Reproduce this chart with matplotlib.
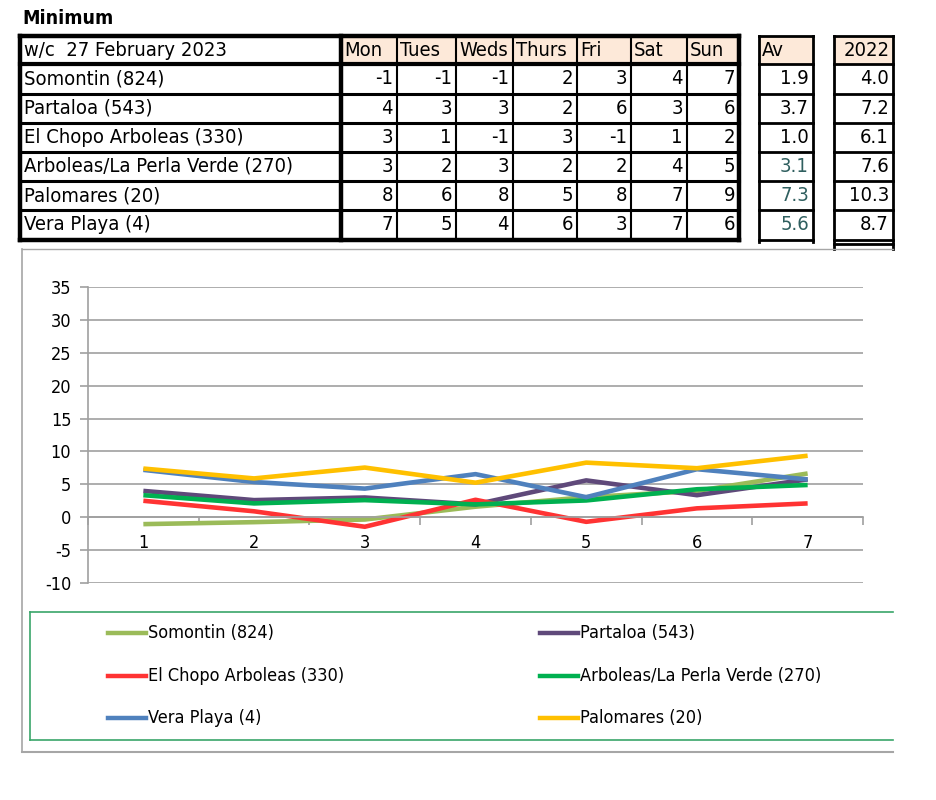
import matplotlib
matplotlib.use("Agg")
import matplotlib.pyplot as plt
from matplotlib import font_manager
from matplotlib.lines import Line2D
from matplotlib.patches import Rectangle

# table data
days = ["Mon", "Tues", "Weds", "Thurs", "Fri", "Sat", "Sun"]
stations = ["Somontin (824)", "Partaloa (543)", "El Chopo Arboleas (330)",
            "Arboleas/La Perla Verde (270)", "Palomares (20)", "Vera Playa (4)"]
somontin_t = [-1, -1, -1, 2, 3, 4, 7]
partaloa_t = [4, 3, 3, 2, 6, 3, 6]
chopo_t = [3, 1, -1, 3, -1, 1, 2]
arboleas_t = [3, 2, 3, 2, 2, 4, 5]
palomares_t = [8, 6, 8, 5, 8, 7, 9]
vera_t = [7, 5, 4, 6, 3, 7, 6]
av = [1.9, 3.7, 1.0, 3.1, 7.3, 5.6]
last_year = [4.0, 7.2, 6.1, 7.6, 10.3, 8.7]

# chart series (the plotted decimals)
x_days = [1, 2, 3, 4, 5, 6, 7]
somontin = [-1.05, -0.75, -0.35, 1.6, 3.05, 4.0, 6.65]
partaloa = [4.0, 2.6, 3.0, 1.95, 5.6, 3.35, 5.75]
chopo = [2.5, 0.9, -1.45, 2.65, -0.7, 1.35, 2.1]
arboleas = [3.35, 2.1, 2.6, 1.95, 2.55, 4.25, 4.9]
vera = [7.2, 5.35, 4.35, 6.55, 3.05, 7.3, 5.75]
palomares = [7.4, 5.9, 7.55, 5.25, 8.3, 7.45, 9.35]

series_names = ["Somontin (824)", "Partaloa (543)", "El Chopo Arboleas (330)",
                "Arboleas/La Perla Verde (270)", "Vera Playa (4)", "Palomares (20)"]
series_vals = [somontin, partaloa, chopo, arboleas, vera, palomares]
series_cols = ["#9bbb59", "#5f497a", "#ff3333", "#00b050", "#4f81bd", "#ffc000"]

W, H = 937, 800

# a narrow face looks closer to Calibri, use one if it is there
names = {f.name for f in font_manager.fontManager.ttflist}
stretch = "normal"
FONT = ["Noto Sans", "DejaVu Sans"]
if "Liberation Sans Narrow" in names:
    FONT = ["Liberation Sans Narrow", "DejaVu Sans"]
elif any(f.name == "DejaVu Sans" and f.stretch == "condensed" for f in font_manager.fontManager.ttflist):
    FONT = ["DejaVu Sans"]
    stretch = "condensed"
plt.rcParams['font.family'] = FONT
plt.rcParams['font.stretch'] = stretch
plt.rcParams['axes.unicode_minus'] = False

fig = plt.figure(figsize=(W / 100, H / 100), dpi=100)
fig.patch.set_facecolor("white")


def fx(x):
    return x / W


def fy(y):
    return 1 - y / H


def hline(x0, x1, y, lw, c="black"):
    fig.add_artist(Line2D([fx(x0), fx(x1)], [fy(y), fy(y)], lw=lw, color=c,
                          transform=fig.transFigure, solid_capstyle="projecting"))


def vline(x, y0, y1, lw, c="black"):
    fig.add_artist(Line2D([fx(x), fx(x)], [fy(y0), fy(y1)], lw=lw, color=c,
                          transform=fig.transFigure, solid_capstyle="projecting"))


def rect(x0, y0, x1, y1, fc):
    fig.add_artist(Rectangle((fx(x0), fy(y1)), fx(x1) - fx(x0), fy(y0) - fy(y1),
                             facecolor=fc, edgecolor="none", transform=fig.transFigure))


fig.text(fx(22), fy(19), "Minimum", fontsize=14, fontweight="bold", va="center", ha="left")

# table geometry
col_edges = [20, 341, 397, 456, 513, 577, 631, 687, 739]
row_edges = [36, 64, 94, 123, 152, 181, 210, 240]
av_box = (759, 813)
ly_box = (834, 893)
peach = "#fde9d9"
teal = "#2f5f5f"

for i in range(7):
    rect(col_edges[i + 1], row_edges[0], col_edges[i + 2], row_edges[1], peach)
rect(av_box[0], row_edges[0], av_box[1], row_edges[1], peach)
rect(ly_box[0], row_edges[0], ly_box[1], row_edges[1], peach)

# main table lines
for y in row_edges[1:-1]:
    hline(col_edges[0], col_edges[-1], y, 2.2)
hline(col_edges[0], col_edges[-1], row_edges[0], 3.2)
hline(col_edges[0], col_edges[-1], row_edges[-1], 3.2)
hline(col_edges[0], col_edges[-1], row_edges[1], 3.0)
for x in col_edges[2:-1]:
    vline(x, row_edges[0], row_edges[-1], 1.5)
vline(col_edges[0], row_edges[0], row_edges[-1], 3.2)
vline(col_edges[1], row_edges[0], row_edges[-1], 3.2)
vline(col_edges[-1], row_edges[0], row_edges[-1], 3.2)

# Av and 2022 boxes
for (a, b), bottom in [(av_box, 242), (ly_box, 249)]:
    vline(a, row_edges[0], bottom, 2.0)
    vline(b, row_edges[0], bottom, 2.0)
    for y in row_edges[1:]:
        hline(a, b, y, 2.0)
    hline(a, b, row_edges[0], 2.0)
hline(ly_box[0], ly_box[1], 244, 2.0)

fs = 14.5
ymid = lambda r: (row_edges[r] + row_edges[r + 1]) / 2
fig.text(fx(24), fy(ymid(0)), "w/c  27 February 2023", fontsize=fs, va="center")
for i, d in enumerate(days):
    fig.text(fx(col_edges[i + 1] + 3), fy(ymid(0)), d, fontsize=fs, va="center")
fig.text(fx(av_box[0] + 3), fy(ymid(0)), "Av", fontsize=fs, va="center")
fig.text(fx(ly_box[1] - 3), fy(ymid(0)), "2022", fontsize=fs, va="center", ha="right")

table_rows = [somontin_t, partaloa_t, chopo_t, arboleas_t, palomares_t, vera_t]
for r, (name, vals) in enumerate(zip(stations, table_rows)):
    yc = fy(ymid(r + 1))
    fig.text(fx(24), yc, name, fontsize=fs, va="center")
    for i, v in enumerate(vals):
        fig.text(fx(col_edges[i + 2] - 4), yc, str(v), fontsize=fs, va="center", ha="right")
    fig.text(fx(av_box[1] - 4), yc, f"{av[r]:.1f}", fontsize=fs, va="center", ha="right",
             color=teal if r >= 3 else "black")
    fig.text(fx(ly_box[1] - 4), yc, f"{last_year[r]:.1f}", fontsize=fs, va="center", ha="right")

# chart frame and legend frame (right edge is cut off in the original)
grey = "#a6a6a6"
hline(22, 893, 249, 1.0, grey)
hline(22, 893, 752, 1.5, grey)
vline(22, 249, 752, 1.2, grey)
lg = "#3aa56a"
hline(30, 893, 612, 1.2, lg)
hline(30, 893, 740, 1.2, lg)
vline(30, 612, 740, 1.2, lg)

# plot
ax = fig.add_axes([fx(88), fy(583), fx(863) - fx(88), fy(287) - fy(583)])
for name, vals, col in zip(series_names, series_vals, series_cols):
    ax.plot(x_days, vals, color=col, lw=3.3, label=name, solid_capstyle="butt")

ax.set_xlim(0.5, 7.5)
ax.set_ylim(-10, 35)
ax.set_yticks(range(-10, 36, 5))
ax.grid(axis="y", color="#a0a0a0", lw=1.2)
ax.set_axisbelow(True)
for s in ["top", "right"]:
    ax.spines[s].set_visible(False)
ax.spines["left"].set_color("#a0a0a0")
ax.spines["left"].set_linewidth(1.2)
ax.spines["bottom"].set_position(("data", 0))
ax.spines["bottom"].set_color("#a0a0a0")
ax.spines["bottom"].set_linewidth(1.2)
ax.set_xticks(x_days)
ax.set_xticklabels([str(d) for d in x_days])
ax.set_xticks([i + 0.5 for i in range(8)], minor=True)
ax.tick_params(axis="x", which="major", length=0, pad=12, labelsize=13)
ax.tick_params(axis="x", which="minor", length=6, color="#a0a0a0", width=1.2)
ax.tick_params(axis="y", length=6, color="#a0a0a0", width=1.2, labelsize=13, pad=6)

# legend drawn by hand, two columns
leg_pos = [(108, 633), (540, 633), (108, 676), (540, 676), (108, 718), (540, 718)]
for (lx, ly), name, col in zip(leg_pos, series_names, series_cols):
    fig.add_artist(Line2D([fx(lx), fx(lx + 38)], [fy(ly), fy(ly)], lw=3.2, color=col,
                          transform=fig.transFigure))
    fig.text(fx(lx + 40), fy(ly), name, fontsize=13, va="center", ha="left")

fig.savefig("out.png", dpi=100, facecolor="white")
